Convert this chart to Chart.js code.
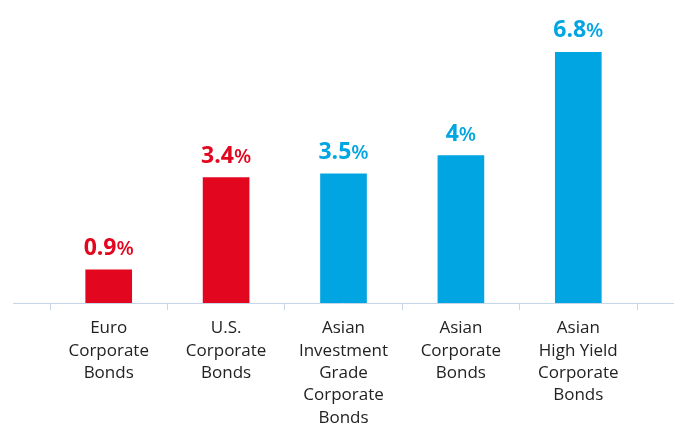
<!DOCTYPE html>
<html>
<head>
<meta charset="utf-8">
<script src="https://cdn.jsdelivr.net/npm/chart.js@4.4.1/dist/chart.umd.min.js"></script>
<style>
  html, body { margin: 0; padding: 0; background: #fff; }
  #wrap { width: 682px; height: 427px; position: relative; }
</style>
</head>
<body>
<div id="wrap"><canvas id="yieldChart"></canvas></div>
<script>
const categories = [
    ['Euro', 'Corporate', 'Bonds'],
    ['U.S.', 'Corporate', 'Bonds'],
    ['Asian', 'Investment', 'Grade', 'Corporate', 'Bonds'],
    ['Asian', 'Corporate', 'Bonds'],
    ['Asian', 'High Yield', 'Corporate', 'Bonds']
];
const yields = [0.9, 3.4, 3.5, 4, 6.8];

const RED = '#e3061f';
const BLUE = '#00a5e1';
const barColors = [RED, RED, BLUE, BLUE, BLUE];
const AXIS = '#c5d6e8';
const FONT = '"Open Sans", "Noto Sans", sans-serif';

// value labels above bars, number bold and % a bit lighter
const valueLabels = {
    id: 'valueLabels',
    afterDatasetsDraw(chart) {
        const ctx = chart.ctx;
        const meta = chart.getDatasetMeta(0);
        ctx.save();
        ctx.textBaseline = 'alphabetic';
        meta.data.forEach((bar, i) => {
            const num = String(yields[i]);
            ctx.font = 'bold 23px ' + FONT;
            const w1 = ctx.measureText(num).width;
            ctx.font = '600 20px ' + FONT;
            const w2 = ctx.measureText('%').width;
            const x0 = bar.x - (w1 + w2) / 2;
            const y = bar.y - 15;
            ctx.fillStyle = barColors[i];
            ctx.textAlign = 'left';
            ctx.font = 'bold 23px ' + FONT;
            ctx.fillText(num, x0, y);
            ctx.font = '600 20px ' + FONT;
            ctx.fillText('%', x0 + w1, y);
        });
        ctx.restore();
    }
};

// baseline runs a bit past the outer tick marks
const baseLine = {
    id: 'baseLine',
    afterDraw(chart) {
        const ctx = chart.ctx;
        const y = chart.chartArea.bottom + 0.5;
        ctx.save();
        ctx.strokeStyle = AXIS;
        ctx.lineWidth = 1;
        ctx.beginPath();
        ctx.moveTo(13, y);
        ctx.lineTo(674, y);
        ctx.stroke();
        ctx.restore();
    }
};

new Chart(document.getElementById('yieldChart'), {
    type: 'bar',
    data: {
        labels: categories,
        datasets: [{
            data: yields,
            backgroundColor: barColors,
            borderWidth: 0,
            barThickness: 46
        }]
    },
    options: {
        responsive: true,
        maintainAspectRatio: false,
        animation: false,
        layout: { padding: { left: 50, right: 45, top: 8, bottom: 0 } },
        plugins: {
            legend: { display: false },
            tooltip: { enabled: false }
        },
        scales: {
            x: {
                offset: true,
                grid: {
                    offset: true,
                    drawOnChartArea: false,
                    drawTicks: true,
                    tickLength: 7,
                    color: AXIS
                },
                border: { display: false },
                ticks: {
                    color: '#222222',
                    padding: 7,
                    maxRotation: 0,
                    autoSkip: false,
                    font: { family: FONT, size: 17, lineHeight: 1.32 }
                },
                afterFit: (scale) => { scale.height = 124; }
            },
            y: {
                display: false,
                min: 0,
                max: 8
            }
        }
    },
    plugins: [valueLabels, baseLine]
});
</script>
</body>
</html>
